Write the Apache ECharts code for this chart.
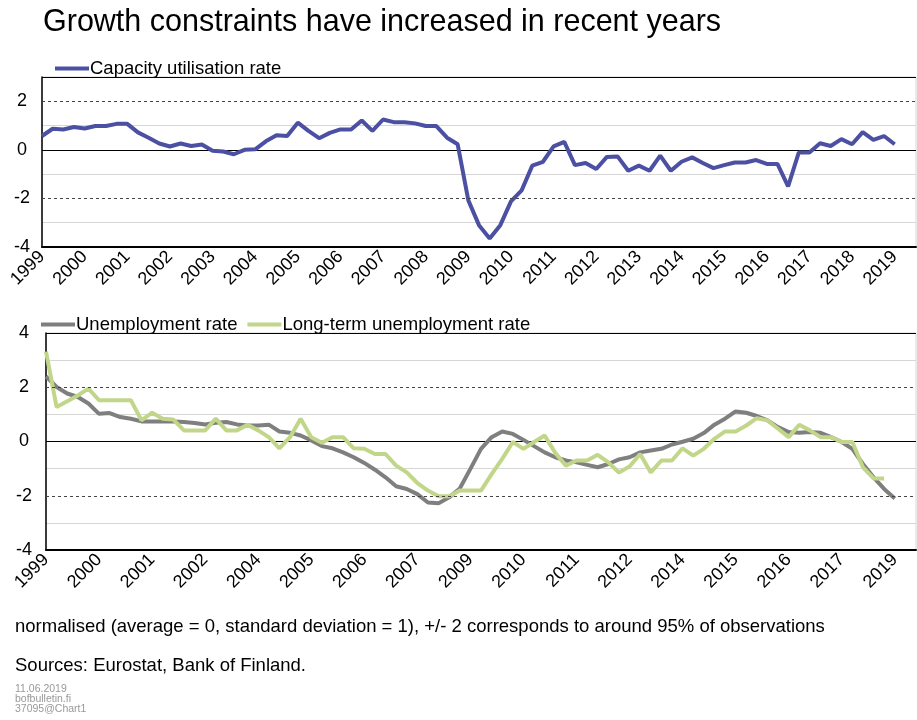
<!DOCTYPE html>
<html>
<head>
<meta charset="utf-8">
<script src="https://cdn.jsdelivr.net/npm/echarts@6/dist/echarts.min.js"></script>
<style>
  html, body { margin: 0; padding: 0; background: #fff; }
  #chart { width: 917px; height: 720px; }
</style>
</head>
<body>
<div id="chart"></div>
<script>
// ---- Data (quarterly, 1999Q1 onward; normalised values) ----
const years = ['1999','2000','2001','2002','2003','2004','2005','2006','2007','2008','2009','2010','2011','2012','2013','2014','2015','2016','2017','2018','2019'];
const quarterNames = ['Q1','Q2','Q3','Q4'];

// Tick labels shown on the axes
const topTickLabels = ['1999','2000','2001','2002','2003','2004','2005','2006','2007','2008','2009','2010','2011','2012','2013','2014','2015','2016','2017','2018','2019'];
const bottomTickLabels = ['1999','2000','2001','2002','2004','2005','2006','2007','2009','2010','2011','2012','2014','2015','2016','2017','2019'];

const capacityUtilisation = [
  0.57, 0.87, 0.84, 0.94, 0.88, 0.98, 0.98, 1.07, 1.07, 0.72,
  0.50, 0.26, 0.14, 0.26, 0.16, 0.22, -0.04, -0.07, -0.18, 0.00,
  0.02, 0.35, 0.60, 0.57, 1.12, 0.78, 0.48, 0.70, 0.84, 0.84,
  1.21, 0.78, 1.25, 1.14, 1.14, 1.09, 0.98, 0.98, 0.50, 0.23,
  -2.08, -3.10, -3.65, -3.10, -2.12, -1.67, -0.65, -0.49, 0.14, 0.33,
  -0.63, -0.54, -0.79, -0.29, -0.27, -0.86, -0.65, -0.86, -0.24, -0.86,
  -0.49, -0.31, -0.54, -0.75, -0.63, -0.52, -0.52, -0.42, -0.58, -0.58,
  -1.50, -0.11, -0.11, 0.27, 0.16, 0.44, 0.23, 0.73, 0.41, 0.57,
  0.23
];

const unemploymentRate = [
  2.40, 2.01, 1.77, 1.64, 1.40, 1.02, 1.05, 0.90, 0.84, 0.74,
  0.74, 0.74, 0.74, 0.72, 0.68, 0.63, 0.69, 0.72, 0.63, 0.59,
  0.59, 0.62, 0.37, 0.32, 0.22, 0.04, -0.17, -0.25, -0.40, -0.58,
  -0.79, -1.04, -1.32, -1.65, -1.75, -1.94, -2.25, -2.28, -2.06, -1.73,
  -1.01, -0.27, 0.16, 0.37, 0.28, 0.06, -0.17, -0.40, -0.58, -0.70,
  -0.77, -0.86, -0.95, -0.83, -0.66, -0.58, -0.40, -0.33, -0.27, -0.11,
  -0.01, 0.10, 0.31, 0.62, 0.84, 1.11, 1.06, 0.94, 0.78, 0.53,
  0.35, 0.32, 0.35, 0.32, 0.16, -0.02, -0.27, -0.83, -1.32, -1.75,
  -2.10
];

const longTermUnemploymentRate = [
  3.31, 1.27, 1.48, 1.70, 1.95, 1.52, 1.52, 1.52, 1.52, 0.78,
  1.06, 0.84, 0.81, 0.41, 0.41, 0.41, 0.84, 0.41, 0.41, 0.62,
  0.41, 0.16, -0.25, 0.16, 0.84, 0.16, -0.05, 0.16, 0.16, -0.25,
  -0.27, -0.46, -0.46, -0.89, -1.14, -1.53, -1.81, -2.02, -2.02, -1.81,
  -1.81, -1.81, -1.20, -0.64, -0.02, -0.27, -0.02, 0.22, -0.42, -0.89,
  -0.70, -0.70, -0.49, -0.77, -1.14, -0.92, -0.46, -1.14, -0.70, -0.70,
  -0.25, -0.52, -0.27, 0.10, 0.37, 0.37, 0.59, 0.86, 0.78, 0.47,
  0.16, 0.62, 0.41, 0.16, 0.16, -0.02, -0.02, -0.95, -1.36, -1.36
];

// Category axis: 1999Q1 .. 2019Q3
const categories = [];
years.forEach(y => quarterNames.forEach(q => categories.push(y + q)));
categories.length = 83;

// ---- Styling ----
const FONT = 'Liberation Sans, Arial, sans-serif';
const blue = '#4B50A2';
const grey = '#7F7F7F';
const green = '#C2D68A';
const lightGrid = '#D6D6D6';

const dashedMark = {
  silent: true,
  symbol: 'none',
  label: { show: false },
  lineStyle: { color: '#444', type: [3, 3], width: 1 },
  data: [{ yAxis: 2 }, { yAxis: -2 }]
};

function xAxisFor(gridIndex, every, labels) {
  return {
    type: 'category',
    gridIndex,
    data: categories,
    boundaryGap: false,
    axisLine: { onZero: false, lineStyle: { color: '#000', width: 2 } },
    axisTick: { show: false },
    splitLine: { show: false },
    axisLabel: {
      interval: every - 1,
      rotate: 45,
      margin: 7,
      fontSize: 18,
      color: '#000',
      fontFamily: FONT,
      formatter: (v, i) => labels[Math.round(i / every)] || ''
    }
  };
}

const legendText = { fontSize: 18.5, color: '#000', fontFamily: FONT, padding: [0, 0, 0, -4] };

const option = {
  animation: false,
  backgroundColor: '#fff',
  title: {
    text: 'Growth constraints have increased in recent years',
    left: 38, top: 2,
    textStyle: { fontSize: 30.5, fontWeight: 'normal', color: '#000', fontFamily: FONT }
  },
  legend: [
    {
      left: 55, top: 59, padding: 0,
      icon: 'rect', itemWidth: 34, itemHeight: 4, itemGap: 10,
      textStyle: legendText,
      data: ['Capacity utilisation rate']
    },
    {
      left: 41, top: 315, padding: 0,
      icon: 'rect', itemWidth: 34, itemHeight: 4, itemGap: 10,
      textStyle: legendText,
      data: ['Unemployment rate', 'Long-term unemployment rate']
    }
  ],
  grid: [
    { left: 42, top: 77, width: 874, height: 170, show: true, borderColor: lightGrid, borderWidth: 1 },
    { left: 46, top: 333, width: 870, height: 217, show: true, borderColor: lightGrid, borderWidth: 1 }
  ],
  xAxis: [
    xAxisFor(0, 4, topTickLabels),
    xAxisFor(1, 5, bottomTickLabels)
  ],
  yAxis: [
    {
      type: 'value', gridIndex: 0, min: -4, max: 3, interval: 1,
      axisLine: { show: true, lineStyle: { color: '#000', width: 1.5 } },
      axisTick: { show: false },
      axisLabel: {
        fontSize: 18, color: '#000', fontFamily: FONT, align: 'center', margin: 20,
        formatter: v => (v % 2 === 0 ? String(v) : '')
      },
      splitLine: {
        show: true,
        lineStyle: { width: 1, color: ['#000', lightGrid, 'rgba(0,0,0,0)', lightGrid, '#000', lightGrid, 'rgba(0,0,0,0)', '#000'] }
      }
    },
    {
      type: 'value', gridIndex: 1, min: -4, max: 4, interval: 1,
      axisLine: { show: true, lineStyle: { color: '#000', width: 1.5 } },
      axisTick: { show: false },
      axisLabel: {
        fontSize: 18, color: '#000', fontFamily: FONT, align: 'center', margin: 22,
        formatter: v => (v % 2 === 0 ? String(v) : '')
      },
      splitLine: {
        show: true,
        lineStyle: { width: 1, color: ['#000', lightGrid, 'rgba(0,0,0,0)', lightGrid, '#000', lightGrid, 'rgba(0,0,0,0)', lightGrid, '#000'] }
      }
    }
  ],
  series: [
    {
      name: 'Capacity utilisation rate', type: 'line',
      xAxisIndex: 0, yAxisIndex: 0,
      data: capacityUtilisation,
      showSymbol: false, symbol: 'none',
      lineStyle: { color: blue, width: 4 },
      itemStyle: { color: blue },
      markLine: dashedMark,
      z: 3
    },
    {
      name: 'Unemployment rate', type: 'line',
      xAxisIndex: 1, yAxisIndex: 1,
      data: unemploymentRate,
      showSymbol: false, symbol: 'none',
      lineStyle: { color: grey, width: 4 },
      itemStyle: { color: grey },
      markLine: dashedMark,
      z: 3
    },
    {
      name: 'Long-term unemployment rate', type: 'line',
      xAxisIndex: 1, yAxisIndex: 1,
      data: longTermUnemploymentRate,
      showSymbol: false, symbol: 'none',
      lineStyle: { color: green, width: 4 },
      itemStyle: { color: green },
      z: 4
    }
  ],
  graphic: [
    {
      type: 'text', left: 15, top: 617,
      style: { text: 'normalised (average = 0, standard deviation = 1), +/- 2 corresponds to around 95% of observations',
               fontSize: 18.5, fill: '#000', fontFamily: FONT }
    },
    {
      type: 'text', left: 15, top: 656,
      style: { text: 'Sources: Eurostat, Bank of Finland.', fontSize: 18.5, fill: '#000', fontFamily: FONT }
    },
    {
      type: 'text', left: 15, top: 684,
      style: { text: '11.06.2019', fontSize: 10.5, fill: '#999', fontFamily: FONT }
    },
    {
      type: 'text', left: 15, top: 694,
      style: { text: 'bofbulletin.fi', fontSize: 10.5, fill: '#999', fontFamily: FONT }
    },
    {
      type: 'text', left: 15, top: 704,
      style: { text: '37095@Chart1', fontSize: 10.5, fill: '#999', fontFamily: FONT }
    }
  ]
};

const chart = echarts.init(document.getElementById('chart'), null, { renderer: 'canvas' });
chart.setOption(option);
</script>
</body>
</html>
